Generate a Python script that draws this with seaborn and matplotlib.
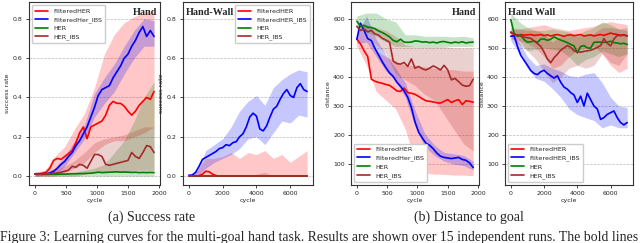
import numpy as np
import pandas as pd
import matplotlib
matplotlib.use("Agg")
import matplotlib.pyplot as plt
import seaborn as sns

# ---------- data ----------
labels_a = ["FilteredHER", "FilteredHer_IBS", "HER", "HER_IBS"]
labels_b = ["FilteredHER", "FilteredHER_IBS", "HER", "HER_IBS"]
colors = ["#ff0000", "#0000ff", "#008000", "#a52a2a"]

# Hand, success rate
x_hand = [0, 60, 120, 180, 240, 300, 360, 420, 480, 540, 600, 660, 720, 780, 840, 900,
          960, 1020, 1080, 1140, 1200, 1260, 1320, 1380, 1440, 1500, 1560, 1620, 1680,
          1740, 1800, 1860, 1920]
sr_hand_fher = [0.01, 0.01, 0.015, 0.02, 0.04, 0.08, 0.09, 0.085, 0.1, 0.115, 0.13, 0.17,
                0.22, 0.25, 0.19, 0.25, 0.26, 0.27, 0.28, 0.31, 0.36, 0.38, 0.37, 0.37,
                0.355, 0.33, 0.31, 0.33, 0.36, 0.38, 0.4, 0.39, 0.43]
sr_hand_fibs = [0.01, 0.01, 0.01, 0.012, 0.015, 0.025, 0.04, 0.06, 0.075, 0.1, 0.12, 0.155,
                0.18, 0.215, 0.25, 0.3, 0.35, 0.41, 0.44, 0.45, 0.46, 0.5, 0.53, 0.56,
                0.6, 0.62, 0.66, 0.69, 0.73, 0.76, 0.71, 0.74, 0.71]
sr_hand_her = [0.01, 0.01, 0.01, 0.01, 0.01, 0.01, 0.01, 0.01, 0.01, 0.011, 0.012, 0.012,
               0.013, 0.013, 0.014, 0.015, 0.017, 0.02, 0.018, 0.019, 0.02, 0.021, 0.022,
               0.02, 0.021, 0.02, 0.019, 0.02, 0.018, 0.019, 0.018, 0.019, 0.018]
sr_hand_hibs = [0.01, 0.01, 0.01, 0.012, 0.012, 0.015, 0.015, 0.02, 0.025, 0.03, 0.05, 0.045,
                0.06, 0.055, 0.04, 0.075, 0.11, 0.11, 0.1, 0.06, 0.055, 0.06, 0.065, 0.07,
                0.075, 0.08, 0.12, 0.1, 0.09, 0.12, 0.155, 0.15, 0.12]
xb_hand = [0, 160, 320, 480, 640, 800, 960, 1120, 1280, 1440, 1600, 1760, 1920]
sr_hand_fher_lo = [0.0, 0.0, 0.0, 0.02, 0.04, 0.07, 0.12, 0.16, 0.18, 0.18, 0.2, 0.22, 0.25]
sr_hand_fher_hi = [0.02, 0.03, 0.1, 0.15, 0.24, 0.32, 0.45, 0.62, 0.72, 0.78, 0.81, 0.83, 0.84]
sr_hand_fibs_lo = [0.0, 0.005, 0.01, 0.05, 0.12, 0.19, 0.3, 0.37, 0.43, 0.52, 0.6, 0.66, 0.66]
sr_hand_fibs_hi = [0.02, 0.02, 0.04, 0.1, 0.18, 0.26, 0.42, 0.5, 0.57, 0.66, 0.74, 0.8, 0.79]
sr_hand_her_lo = [0.0] * 13
sr_hand_her_hi = [0.02, 0.02, 0.02, 0.02, 0.02, 0.03, 0.04, 0.06, 0.12, 0.18, 0.28, 0.4, 0.48]
sr_hand_hibs_lo = [0.0, 0.0, 0.0, 0.0, 0.0, 0.01, 0.02, 0.02, 0.02, 0.02, 0.03, 0.03, 0.03]
sr_hand_hibs_hi = [0.02, 0.02, 0.03, 0.05, 0.08, 0.12, 0.17, 0.19, 0.2, 0.21, 0.23, 0.25, 0.25]

# Hand-Wall, success rate
x_wall = [0, 200, 400, 600, 800, 1000, 1200, 1400, 1600, 1800, 2000, 2200, 2400, 2600,
          2800, 3000, 3200, 3400, 3600, 3800, 4000, 4200, 4400, 4600, 4800, 5000, 5200,
          5400, 5600, 5800, 6000, 6200, 6400, 6600, 6800, 7000]
sr_wall_fher = [0.0, 0.0, 0.0, 0.002, 0.01, 0.025, 0.022, 0.01, 0.003] + [0.0] * 27
sr_wall_fibs = [0.005, 0.005, 0.02, 0.05, 0.085, 0.095, 0.105, 0.115, 0.125, 0.14, 0.145,
                0.16, 0.155, 0.17, 0.175, 0.2, 0.215, 0.25, 0.3, 0.32, 0.305, 0.24, 0.23,
                0.255, 0.3, 0.34, 0.355, 0.39, 0.42, 0.44, 0.41, 0.4, 0.45, 0.47, 0.44, 0.43]
sr_wall_her = [0.0] * 36
sr_wall_hibs = [0.0] * 36
xb_wall = [0, 500, 1000, 1500, 2000, 2500, 3000, 3500, 4000, 4500, 5000, 5500, 6000, 6500, 7000]
sr_wall_fher_lo = [0.0] * 15
sr_wall_fher_hi = [0.0, 0.03, 0.09, 0.09, 0.1, 0.12, 0.09, 0.12, 0.11, 0.13, 0.09, 0.11, 0.07, 0.1, 0.13]
sr_wall_fibs_lo = [0.0, 0.0, 0.04, 0.07, 0.09, 0.11, 0.14, 0.19, 0.2, 0.16, 0.22, 0.28, 0.27, 0.31, 0.3]
sr_wall_fibs_hi = [0.01, 0.03, 0.13, 0.16, 0.19, 0.25, 0.33, 0.38, 0.41, 0.36, 0.45, 0.49, 0.52, 0.54, 0.53]
sr_wall_her_lo = [0.0] * 15
sr_wall_her_hi = [0.0] * 15
sr_wall_hibs_lo = [0.0] * 15
sr_wall_hibs_hi = [0.0, 0.0, 0.0, 0.0, 0.0, 0.0, 0.0, 0.0, 0.01, 0.02, 0.0, 0.0, 0.0, 0.0, 0.0]

# Hand, distance
d_hand_fher = [530, 514, 490, 470, 392, 385, 381, 378, 374, 371, 362, 352, 350, 362, 346, 344,
               340, 333, 325, 318, 316, 314, 311, 310, 316, 322, 312, 318, 322, 305, 318, 316, 313]
d_hand_fibs = [530, 585, 560, 532, 525, 498, 475, 452, 432, 414, 402, 382, 368, 352, 330, 295,
               245, 210, 190, 172, 165, 153, 138, 127, 123, 121, 119, 121, 123, 116, 113, 104, 88]
d_hand_her = [592, 575, 577, 571, 570, 566, 558, 553, 546, 538, 526, 521, 530, 520, 519, 520,
              524, 523, 520, 521, 518, 520, 517, 521, 522, 519, 517, 520, 518, 521, 517, 519, 520]
d_hand_hibs = [574, 560, 565, 555, 560, 548, 544, 533, 527, 520, 455, 446, 444, 450, 436, 462,
               430, 436, 428, 424, 430, 438, 432, 424, 440, 424, 390, 395, 384, 372, 368, 370, 392]
d_hand_fher_lo = [505, 440, 350, 320, 290, 220, 110, 70, 65, 65, 62, 62, 60]
d_hand_fher_hi = [555, 540, 490, 470, 455, 440, 440, 435, 430, 425, 425, 420, 420]
d_hand_fibs_lo = [515, 520, 470, 420, 385, 330, 230, 160, 130, 110, 100, 95, 80]
d_hand_fibs_hi = [545, 610, 530, 475, 430, 380, 285, 205, 165, 140, 135, 130, 110]
d_hand_her_lo = [570, 555, 540, 520, 505, 505, 505, 505, 505, 505, 505, 505, 505]
d_hand_her_hi = [610, 620, 620, 600, 590, 545, 545, 540, 540, 540, 538, 540, 535]
d_hand_hibs_lo = [555, 540, 510, 480, 410, 390, 370, 340, 320, 270, 220, 170, 145]
d_hand_hibs_hi = [590, 580, 570, 560, 540, 510, 505, 505, 505, 505, 500, 500, 500]

# Hand-Wall, distance
d_wall_fher = [552, 548, 542, 546, 544, 545, 546, 543, 544, 546, 542, 545, 541, 544, 546, 543,
               540, 544, 545, 542, 544, 546, 541, 543, 545, 541, 544, 546, 543, 547, 551, 548,
               546, 544, 545, 542]
d_wall_fibs = [540, 542, 505, 474, 457, 440, 422, 412, 408, 418, 423, 412, 404, 396, 404, 382,
               365, 358, 346, 338, 312, 334, 300, 344, 322, 300, 290, 254, 260, 271, 277, 283,
               260, 243, 235, 243]
d_wall_her = [597, 550, 540, 545, 528, 520, 521, 524, 519, 530, 531, 526, 530, 538, 532, 527,
              523, 518, 512, 507, 483, 505, 508, 500, 499, 519, 520, 520, 519, 520, 523, 518,
              517, 514, 516, 512]
d_wall_hibs = [555, 546, 545, 540, 537, 535, 533, 524, 515, 505, 486, 462, 449, 466, 478, 492,
               500, 508, 502, 490, 487, 485, 488, 490, 492, 496, 502, 508, 532, 516, 507, 530,
               543, 542, 544, 540]
d_wall_fher_lo = [530, 525, 515, 500, 470, 430, 440, 470, 490, 500, 505, 480, 440, 415, 430]
d_wall_fher_hi = [560, 565, 570, 575, 580, 570, 565, 560, 565, 570, 575, 585, 590, 585, 580]
d_wall_fibs_lo = [525, 480, 430, 395, 385, 360, 330, 290, 270, 260, 250, 225, 235, 225, 225]
d_wall_fibs_hi = [555, 520, 470, 440, 445, 430, 420, 405, 400, 410, 415, 380, 330, 300, 295]
d_wall_her_lo = [560, 525, 490, 495, 500, 495, 490, 470, 440, 460, 470, 490, 480, 470, 480]
d_wall_her_hi = [620, 590, 570, 560, 560, 565, 560, 555, 545, 560, 570, 590, 580, 565, 560]
d_wall_hibs_lo = [540, 510, 490, 460, 420, 380, 400, 430, 440, 430, 440, 480, 450, 440, 480]
d_wall_hibs_hi = [570, 565, 560, 560, 550, 520, 540, 545, 540, 545, 550, 570, 570, 565, 570]

# ---------- style ----------
sns.set_theme(style="ticks")
plt.rcParams["font.family"] = ["DejaVu Sans"]

fig = plt.figure(figsize=(6.4, 2.43), dpi=100)

H = 243.0
W = 640.0
def add_ax(l, r, t=2, b=185):
    return fig.add_axes([l / W, 1 - b / H, (r - l) / W, (b - t) / H])

panels = [
    dict(ax=add_ax(29, 160), x=x_hand, xb=xb_hand, labels=labels_a, ylabel="success rate",
         lines=[sr_hand_fher, sr_hand_fibs, sr_hand_her, sr_hand_hibs],
         lo=[sr_hand_fher_lo, sr_hand_fibs_lo, sr_hand_her_lo, sr_hand_hibs_lo],
         hi=[sr_hand_fher_hi, sr_hand_fibs_hi, sr_hand_her_hi, sr_hand_hibs_hi],
         title="Hand", tpos="right", legloc="upper left", ylim=(-0.045, 0.885)),
    dict(ax=add_ax(183, 313), x=x_wall, xb=xb_wall, labels=labels_b, ylabel="success rate",
         lines=[sr_wall_fher, sr_wall_fibs, sr_wall_her, sr_wall_hibs],
         lo=[sr_wall_fher_lo, sr_wall_fibs_lo, sr_wall_her_lo, sr_wall_hibs_lo],
         hi=[sr_wall_fher_hi, sr_wall_fibs_hi, sr_wall_her_hi, sr_wall_hibs_hi],
         title="Hand-Wall", tpos="left", legloc="upper right", ylim=(-0.045, 0.885)),
    dict(ax=add_ax(351, 479), x=x_hand, xb=xb_hand, labels=labels_a, ylabel="distance",
         lines=[d_hand_fher, d_hand_fibs, d_hand_her, d_hand_hibs],
         lo=[d_hand_fher_lo, d_hand_fibs_lo, d_hand_her_lo, d_hand_hibs_lo],
         hi=[d_hand_fher_hi, d_hand_fibs_hi, d_hand_her_hi, d_hand_hibs_hi],
         title="Hand", tpos="right", legloc="lower left", ylim=(28, 658)),
    dict(ax=add_ax(505, 633), x=x_wall, xb=xb_wall, labels=labels_b, ylabel="distance",
         lines=[d_wall_fher, d_wall_fibs, d_wall_her, d_wall_hibs],
         lo=[d_wall_fher_lo, d_wall_fibs_lo, d_wall_her_lo, d_wall_hibs_lo],
         hi=[d_wall_fher_hi, d_wall_fibs_hi, d_wall_her_hi, d_wall_hibs_hi],
         title="Hand Wall", tpos="left", legloc="lower left", ylim=(28, 658)),
]

for p in panels:
    ax = p["ax"]
    for name, col, y, lo, hi in zip(p["labels"], colors, p["lines"], p["lo"], p["hi"]):
        df = pd.DataFrame({"cycle": p["x"], "value": y})
        sns.lineplot(data=df, x="cycle", y="value", ax=ax, color=col, lw=1.2, label=name)
        ax.fill_between(p["xb"], lo, hi, color=col, alpha=0.22, lw=0)
    ax.set_ylim(*p["ylim"])
    xmax = p["x"][-1]
    ax.set_xlim(-0.05 * xmax, 1.05 * xmax)
    ax.set_xlabel("cycle", fontsize=4.5, labelpad=1.5)
    ax.set_ylabel(p["ylabel"], fontsize=4.5, labelpad=2)
    ax.tick_params(labelsize=4.5, length=2.5, width=0.6, pad=2)
    ax.grid(axis="y", ls="--", lw=0.5, color="#bbbbbb")
    for s in ax.spines.values():
        s.set_color("#333333")
        s.set_linewidth(0.8)
    ax.legend(loc=p["legloc"], fontsize=4.6, handlelength=2.0, borderpad=0.5,
              labelspacing=0.45, framealpha=1, edgecolor="#cccccc")
    if p["tpos"] == "right":
        ax.text(0.98, 0.965, p["title"], transform=ax.transAxes, ha="right", va="top",
                fontsize=7.3, fontweight="bold", family="Liberation Serif")
    else:
        ax.text(0.02, 0.965, p["title"], transform=ax.transAxes, ha="left", va="top",
                fontsize=7.3, fontweight="bold", family="Liberation Serif")

fig.text(152 / W, 1 - 217 / H, "(a) Success rate", ha="center", va="center",
         fontsize=10, family="Liberation Serif")
fig.text(469 / W, 1 - 217 / H, "(b) Distance to goal", ha="center", va="center",
         fontsize=10, family="Liberation Serif")
fig.text(0.0, 1 - 230 / H,
         "Figure 3: Learning curves for the multi-goal hand task. Results are shown over 15 independent runs. The bold lines",
         ha="left", va="top", fontsize=9.9, family="Liberation Serif")

fig.savefig("out.png", dpi=100)
